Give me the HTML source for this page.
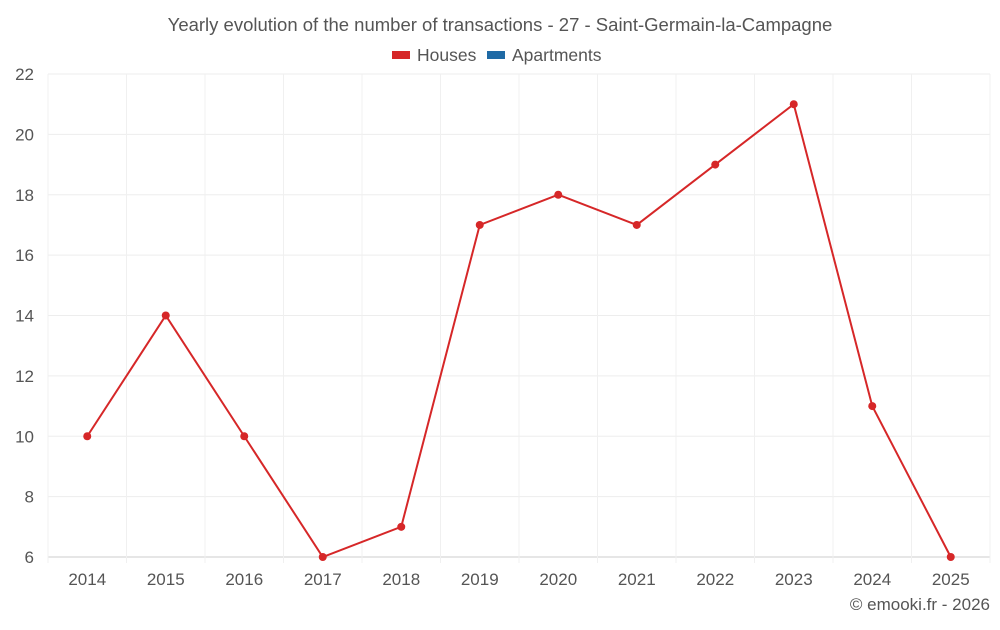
<!DOCTYPE html>
<html><head><meta charset="utf-8"><style>
body{margin:0;background:#fff;font-family:"Liberation Sans",sans-serif;}
svg text{font-family:"Liberation Sans",sans-serif;}
</style></head><body>
<svg id="c" width="1000" height="625">
<text x="500" y="31" text-anchor="middle" font-size="18.5" fill="#555">Yearly evolution of the number of transactions - 27 - Saint-Germain-la-Campagne</text>
<g><rect x="392" y="51" width="18" height="8" fill="#d62728"/><text x="417" y="61" font-size="17.5" fill="#555">Houses</text></g>
<g><rect x="487" y="51" width="18" height="8" fill="#1f6aa5"/><text x="512" y="61" font-size="17.5" fill="#555">Apartments</text></g>
<g id="grid"></g><g id="axes"></g><g id="series"></g>
<text x="990" y="610" text-anchor="end" font-size="17" fill="#555">© emooki.fr - 2026</text>
</svg>
<script>
const years=["2014","2015","2016","2017","2018","2019","2020","2021","2022","2023","2024","2025"];
const houses=[10,14,10,6,7,17,18,17,19,21,11,6];
const yTicks=[6,8,10,12,14,16,18,20,22];
const L=48,R=990,T=74,B=557,yMin=6,yMax=22;
const ns="http://www.w3.org/2000/svg";
const step=(R-L)/years.length;
const xs=i=>L+step*(i+0.5);
const ys=v=>B-(v-yMin)/(yMax-yMin)*(B-T);
function mk(t,a,p){const e=document.createElementNS(ns,t);for(const k in a)e.setAttribute(k,a[k]);p.appendChild(e);return e;}
const g=document.getElementById('grid'),ax=document.getElementById('axes'),s=document.getElementById('series');
yTicks.forEach(v=>{
 const l=mk('line',{x1:L,x2:R,y1:ys(v),y2:ys(v),stroke:v===yMin?'#ccc':'#ededed'},g);
 
 
 const t=mk('text',{x:L-14,y:ys(v)+6,'text-anchor':'end','font-size':17,fill:'#555'},ax);t.textContent=v;
 
 
});
for(let i=0;i<=years.length;i++){
 const l=mk('line',{x1:L+step*i,x2:L+step*i,y1:T,y2:B+6,stroke:'#f0f0f0'},g);
 
 
}
years.forEach((y,i)=>{
 const t=mk('text',{x:xs(i),y:585,'text-anchor':'middle','font-size':17,fill:'#555'},ax);t.textContent=y;
 
 
});
const p=mk('polyline',{points:houses.map((v,i)=>xs(i)+','+ys(v)).join(' '),fill:'none',stroke:'#d62728','stroke-width':2},s);


houses.forEach((v,i)=>{
 const c=mk('circle',{cx:xs(i),cy:ys(v),r:4,fill:'#d62728'},s);
 
 
});
</script>
</body></html>
